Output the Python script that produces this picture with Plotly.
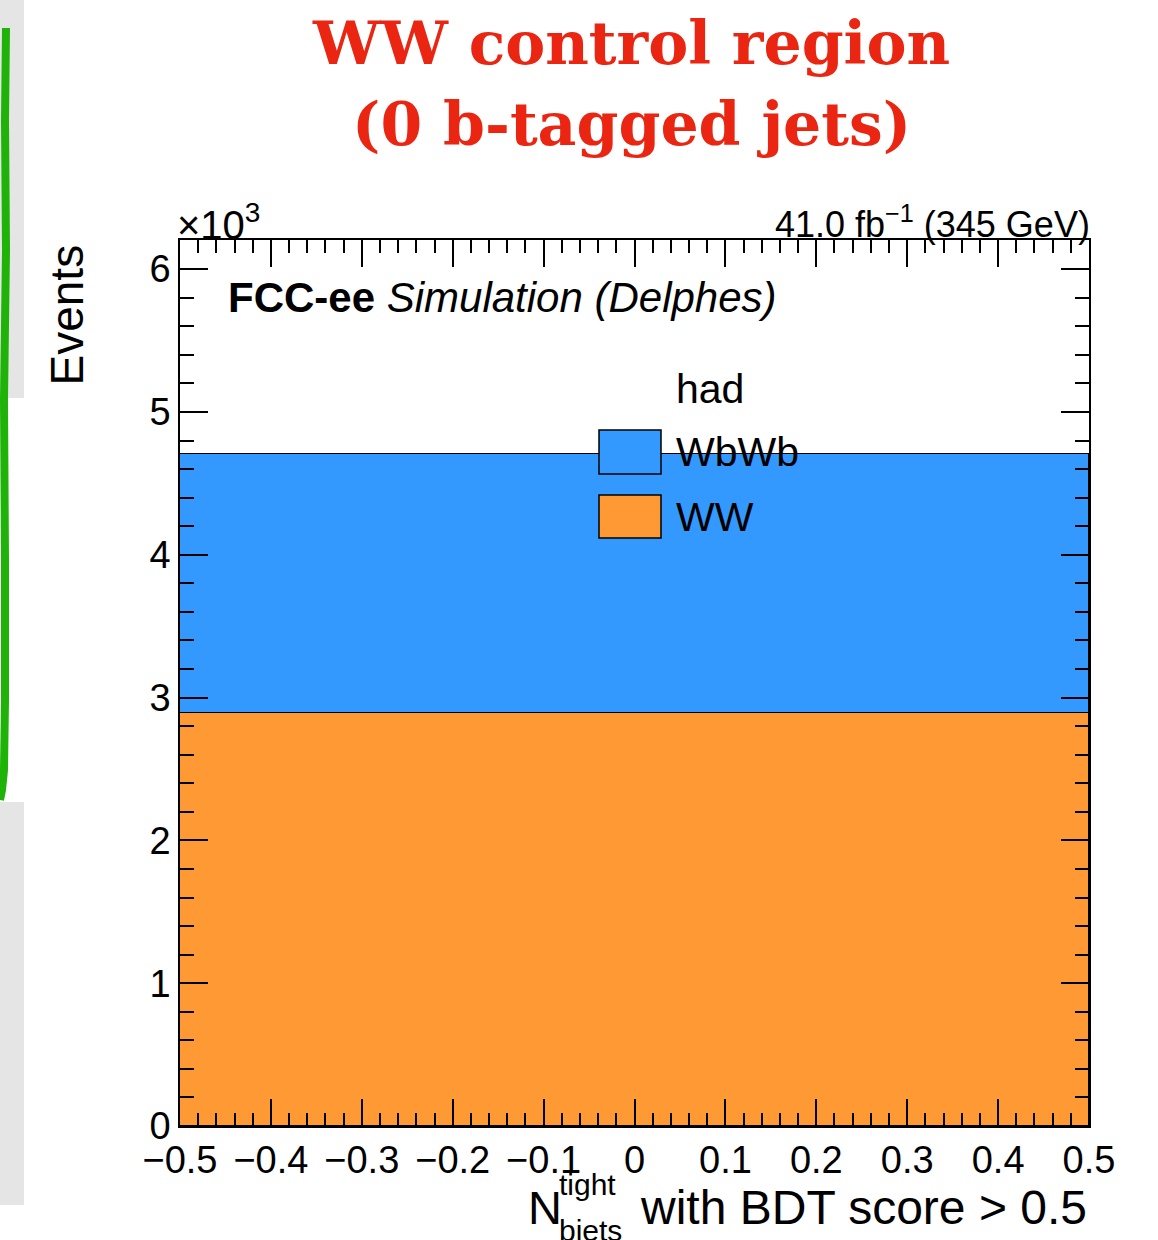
import plotly.graph_objects as go

# Stacked yield in the single N_bjets bin (events)
samples = ["WW", "WbWb"]
bin_centers = [0.0]
bin_widths = [1.0]
ww_events = [2892]
wbwb_events = [1814]
sample_colors = {"WW": "#ff9933", "WbWb": "#3399ff"}

x_ticks = [-0.5, -0.4, -0.3, -0.2, -0.1, 0.0, 0.1, 0.2, 0.3, 0.4, 0.5]
x_ticktext = ["\u22120.5", "\u22120.4", "\u22120.3", "\u22120.2", "\u22120.1",
              "0", "0.1", "0.2", "0.3", "0.4", "0.5"]
y_ticks = [0, 1000, 2000, 3000, 4000, 5000, 6000]
y_ticktext = ["0", "1", "2", "3", "4", "5", "6"]

W, H = 1158, 1240
L, R, T, B = 180, 1089, 240, 1126
FONT = "Liberation Sans"
RED = "#ea2612"


def px(x):
    return (x - L) / (R - L)


def py(y):
    return (B - y) / (B - T)


fig = go.Figure()
series = {"WW": ww_events, "WbWb": wbwb_events}
for name in samples:
    fig.add_trace(go.Bar(
        x=bin_centers, y=series[name], width=bin_widths, name=name,
        marker=dict(color=sample_colors[name], line=dict(color="black", width=1.5)),
        showlegend=False,
    ))

shapes = []
# slide side panels
for y0, y1 in [(0, 398), (802, 1205)]:
    shapes.append(dict(type="rect", xref="paper", yref="paper",
                       x0=px(0), x1=px(24), y0=py(y0), y1=py(y1),
                       fillcolor="#e5e5e5", line=dict(width=0), layer="above"))
green_pts = [(6, 28), (5, 120), (6, 250), (4, 400), (5, 560), (5, 700), (4, 770), (2, 790), (0, 800)]
path = "M " + " L ".join(f"{px(a):.5f},{py(b):.5f}" for a, b in green_pts)
shapes.append(dict(type="path", xref="paper", yref="paper", path=path,
                   line=dict(color="#1fb30a", width=8), layer="above"))

# legend boxes
legend_rows = [("WbWb", 430, 474), ("WW", 495, 538)]
for name, ya, yb in legend_rows:
    shapes.append(dict(type="rect", xref="paper", yref="paper",
                       x0=px(599), x1=px(661), y0=py(yb), y1=py(ya),
                       fillcolor=sample_colors[name], line=dict(color="black", width=1.5),
                       layer="above"))

annotations = []


def text(t, x, y, size, xanchor="left", yanchor="middle", color="black", family=FONT,
         weight="normal", angle=0):
    annotations.append(dict(text=t, x=px(x), y=py(y), xref="paper", yref="paper",
                            xanchor=xanchor, yanchor=yanchor, showarrow=False,
                            textangle=angle,
                            font=dict(size=size, color=color, family=family, weight=weight)))


text("WW control region", 631, 43, 60, xanchor="center", color=RED,
     family="DejaVu Serif", weight="bold")
text("(0 b-tagged jets)", 631, 124, 60, xanchor="center", color=RED,
     family="DejaVu Serif", weight="bold")

text("<b>FCC-ee</b> <i>Simulation (Delphes)</i>", 226, 297, 42)
text("41.0 fb<sup>\u22121</sup> (345 GeV)", 1092, 222, 36, xanchor="right")
text("\u00d710<sup>3</sup>", 175, 222, 40)

text("had", 674, 389, 41)
for name, ya, yb in legend_rows:
    text(name, 674, (ya + yb) / 2, 41)

text("Events", 67, 243, 46, xanchor="center", yanchor="top", angle=-90)

text("N", 526, 1207, 47)
text("tight", 557, 1184, 30)
text("bjets", 557, 1230, 30)
text("with BDT score > 0.5", 1089, 1207, 48, xanchor="right")

axis_common = dict(
    ticks="inside", tickcolor="black", tickwidth=1.5,
    showline=True, linecolor="black", linewidth=1.5, mirror="allticks",
    showgrid=False, zeroline=False,
    tickfont=dict(size=38, family=FONT, color="black"),
)

fig.update_xaxes(
    range=[-0.5, 0.5], tickmode="array", tickvals=x_ticks, ticktext=x_ticktext,
    ticklen=27, ticklabelstandoff=0,
    minor=dict(tick0=-0.5, dtick=0.02, ticks="inside", ticklen=13,
               tickcolor="black", tickwidth=1.5, showgrid=False),
    **axis_common,
)
fig.update_yaxes(
    range=[0, 6204], tickmode="array", tickvals=y_ticks, ticktext=y_ticktext,
    ticklen=28, ticklabelstandoff=0,
    minor=dict(tick0=0, dtick=200, ticks="inside", ticklen=14,
               tickcolor="black", tickwidth=1.5, showgrid=False),
    **axis_common,
)

fig.update_layout(
    width=W, height=H,
    margin=dict(l=L, r=W - R, t=T, b=H - B, pad=0),
    barmode="stack", bargap=0,
    plot_bgcolor="white", paper_bgcolor="white",
    shapes=shapes, annotations=annotations,
    font=dict(family=FONT, color="black"),
)

fig.write_html("out.html")
